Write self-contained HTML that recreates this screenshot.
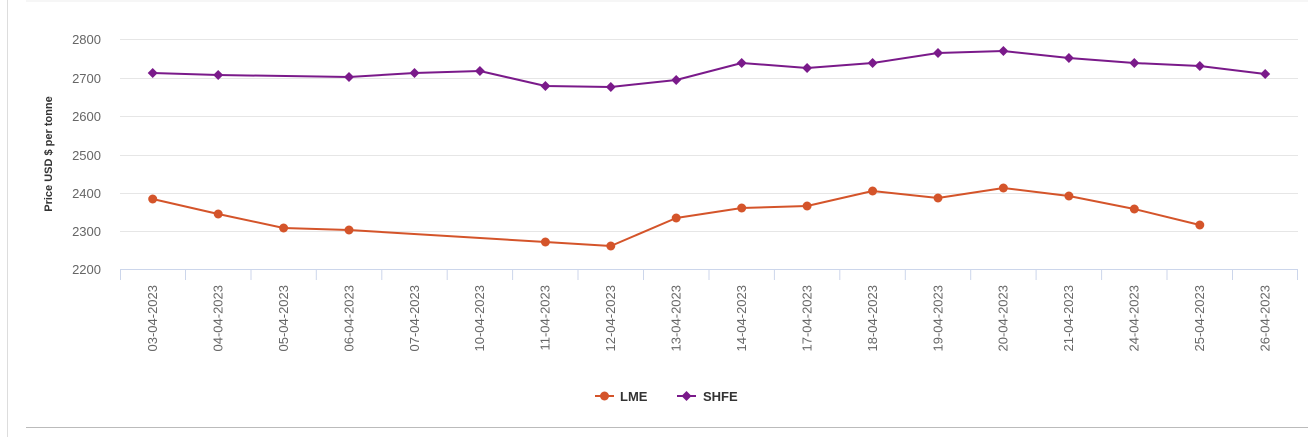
<!DOCTYPE html>
<html><head><meta charset="utf-8"><style>
body{margin:0;background:#fff;}
svg{display:block;font-family:"Liberation Sans",sans-serif;}
</style></head><body>
<svg width="1308" height="437" viewBox="0 0 1308 437">
<rect width="1308" height="437" fill="#fff"/>
<line x1="7.5" y1="0" x2="7.5" y2="437" stroke="#ddd"/>
<line x1="26" y1="1" x2="1308" y2="1" stroke="#eee"/>
<line x1="26" y1="427.5" x2="1308" y2="427.5" stroke="#bbb"/>
<g stroke="#e6e6e6">
<line x1="120" y1="39.5" x2="1298" y2="39.5"/>
<line x1="120" y1="78.5" x2="1298" y2="78.5"/>
<line x1="120" y1="116.5" x2="1298" y2="116.5"/>
<line x1="120" y1="155.5" x2="1298" y2="155.5"/>
<line x1="120" y1="193.5" x2="1298" y2="193.5"/>
<line x1="120" y1="231.5" x2="1298" y2="231.5"/>
</g>
<line x1="120" y1="269.5" x2="1298" y2="269.5" stroke="#ccd6eb"/>
<g stroke="#ccd6eb">
<line x1="120.5" y1="269" x2="120.5" y2="280"/><line x1="185.5" y1="269" x2="185.5" y2="280"/><line x1="251" y1="269" x2="251" y2="280"/><line x1="316.3" y1="269" x2="316.3" y2="280"/><line x1="381.8" y1="269" x2="381.8" y2="280"/><line x1="447.2" y1="269" x2="447.2" y2="280"/><line x1="512.6" y1="269" x2="512.6" y2="280"/><line x1="578" y1="269" x2="578" y2="280"/><line x1="643.5" y1="269" x2="643.5" y2="280"/><line x1="709" y1="269" x2="709" y2="280"/><line x1="774.4" y1="269" x2="774.4" y2="280"/><line x1="839.8" y1="269" x2="839.8" y2="280"/><line x1="905.3" y1="269" x2="905.3" y2="280"/><line x1="970.7" y1="269" x2="970.7" y2="280"/><line x1="1036.1" y1="269" x2="1036.1" y2="280"/><line x1="1101.6" y1="269" x2="1101.6" y2="280"/><line x1="1167" y1="269" x2="1167" y2="280"/><line x1="1232.5" y1="269" x2="1232.5" y2="280"/><line x1="1297.5" y1="269" x2="1297.5" y2="280"/>
</g>
<g font-size="13" fill="#666" text-anchor="end">
<text x="101" y="44">2800</text><text x="101" y="83">2700</text><text x="101" y="121">2600</text><text x="101" y="160">2500</text><text x="101" y="198">2400</text><text x="101" y="236">2300</text><text x="101" y="274">2200</text>
</g>
<text transform="translate(52,154) rotate(-90)" font-size="11" font-weight="bold" fill="#333" text-anchor="middle">Price USD $ per tonne</text>
<g font-size="13" fill="#666" text-anchor="end">
<text transform="translate(157,285) rotate(-90)">03-04-2023</text>
<text transform="translate(222.5,285) rotate(-90)">04-04-2023</text>
<text transform="translate(288,285) rotate(-90)">05-04-2023</text>
<text transform="translate(353.4,285) rotate(-90)">06-04-2023</text>
<text transform="translate(418.8,285) rotate(-90)">07-04-2023</text>
<text transform="translate(484.2,285) rotate(-90)">10-04-2023</text>
<text transform="translate(549.7,285) rotate(-90)">11-04-2023</text>
<text transform="translate(615.1,285) rotate(-90)">12-04-2023</text>
<text transform="translate(680.5,285) rotate(-90)">13-04-2023</text>
<text transform="translate(746,285) rotate(-90)">14-04-2023</text>
<text transform="translate(811.4,285) rotate(-90)">17-04-2023</text>
<text transform="translate(876.9,285) rotate(-90)">18-04-2023</text>
<text transform="translate(942.3,285) rotate(-90)">19-04-2023</text>
<text transform="translate(1007.7,285) rotate(-90)">20-04-2023</text>
<text transform="translate(1073.2,285) rotate(-90)">21-04-2023</text>
<text transform="translate(1138.6,285) rotate(-90)">24-04-2023</text>
<text transform="translate(1204.1,285) rotate(-90)">25-04-2023</text>
<text transform="translate(1269.5,285) rotate(-90)">26-04-2023</text>
</g>
<polyline fill="none" stroke="#d4542a" stroke-width="2" stroke-linejoin="round" points="152.7,199 218.2,214 283.6,228 349,230 545.4,242 610.8,246 676.2,218 741.7,208 807.1,206 872.6,191 938,198 1003.4,188 1068.9,196 1134.3,209 1199.8,225"/>
<g fill="#d4542a">
<circle cx="152.7" cy="199" r="4.5"/><circle cx="218.2" cy="214" r="4.5"/><circle cx="283.6" cy="228" r="4.5"/><circle cx="349" cy="230" r="4.5"/><circle cx="545.4" cy="242" r="4.5"/><circle cx="610.8" cy="246" r="4.5"/><circle cx="676.2" cy="218" r="4.5"/><circle cx="741.7" cy="208" r="4.5"/><circle cx="807.1" cy="206" r="4.5"/><circle cx="872.6" cy="191" r="4.5"/><circle cx="938" cy="198" r="4.5"/><circle cx="1003.4" cy="188" r="4.5"/><circle cx="1068.9" cy="196" r="4.5"/><circle cx="1134.3" cy="209" r="4.5"/><circle cx="1199.8" cy="225" r="4.5"/>
</g>
<polyline fill="none" stroke="#7a1a8a" stroke-width="2" stroke-linejoin="round" points="152.7,73 218.2,75 349,77 414.5,73 479.9,71 545.4,86 610.8,87 676.2,80 741.7,63 807.1,68 872.6,63 938,53 1003.4,51 1068.9,58 1134.3,63 1199.8,66 1265.2,74"/>
<g fill="#7a1a8a">
<path d="M152.7 68l5 5-5 5-5-5z"/><path d="M218.2 70l5 5-5 5-5-5z"/><path d="M349 72l5 5-5 5-5-5z"/><path d="M414.5 68l5 5-5 5-5-5z"/><path d="M479.9 66l5 5-5 5-5-5z"/><path d="M545.4 81l5 5-5 5-5-5z"/><path d="M610.8 82l5 5-5 5-5-5z"/><path d="M676.2 75l5 5-5 5-5-5z"/><path d="M741.7 58l5 5-5 5-5-5z"/><path d="M807.1 63l5 5-5 5-5-5z"/><path d="M872.6 58l5 5-5 5-5-5z"/><path d="M938 48l5 5-5 5-5-5z"/><path d="M1003.4 46l5 5-5 5-5-5z"/><path d="M1068.9 53l5 5-5 5-5-5z"/><path d="M1134.3 58l5 5-5 5-5-5z"/><path d="M1199.8 61l5 5-5 5-5-5z"/><path d="M1265.2 69l5 5-5 5-5-5z"/>
</g>
<line x1="595" y1="396" x2="614" y2="396" stroke="#d4542a" stroke-width="2"/>
<circle cx="604.5" cy="396" r="4.5" fill="#d4542a"/>
<text x="620" y="401" font-size="13" font-weight="bold" fill="#333">LME</text>
<line x1="677" y1="396" x2="696" y2="396" stroke="#7a1a8a" stroke-width="2"/>
<path d="M686.5 391l5 5-5 5-5-5z" fill="#7a1a8a"/>
<text x="703" y="401" font-size="13" font-weight="bold" fill="#333">SHFE</text>
</svg>
</body></html>
